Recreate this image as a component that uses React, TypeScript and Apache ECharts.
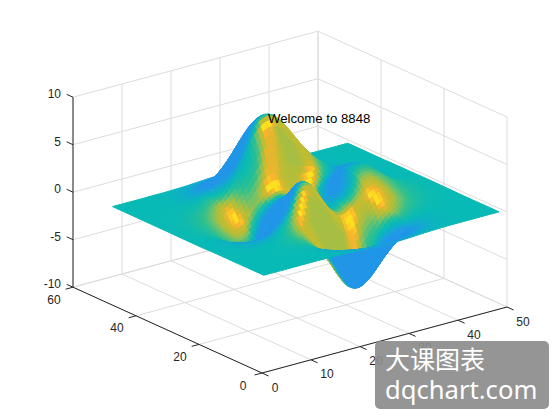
import React, { useEffect, useRef } from "react";
import * as echarts from "echarts";

// Heights read for the surface, every 2nd sample along each side (row = y 1..49, col = x 1..49)
const HEIGHT_ROWS: number[][] = [
  [0,0,0,0,0,.01,0,-.01,-.03,-.08,-.14,-.2,-.25,-.25,-.22,-.17,-.11,-.06,-.03,-.01,-.01,0,0,0,0],
  [0,0,0,0,.01,.01,0,-.02,-.1,-.22,-.39,-.56,-.68,-.7,-.61,-.46,-.3,-.17,-.08,-.03,-.01,0,0,0,0],
  [0,0,0,.01,.01,.02,0,-.07,-.23,-.52,-.91,-1.31,-1.57,-1.61,-1.41,-1.06,-.69,-.39,-.19,-.08,-.03,-.01,0,0,0],
  [0,0,.01,.01,.03,.04,.01,-.12,-.44,-.99,-1.74,-2.5,-3.02,-3.1,-2.72,-2.05,-1.33,-.74,-.35,-.14,-.05,-.01,0,0,0],
  [0,0,.01,.02,.05,.07,.05,-.12,-.58,-1.44,-2.63,-3.88,-4.76,-4.93,-4.36,-3.28,-2.11,-1.16,-.53,-.2,-.06,-.01,0,0,0],
  [0,0,.01,.03,.07,.13,.16,.04,-.44,-1.45,-2.98,-4.69,-5.98,-6.35,-5.67,-4.27,-2.71,-1.44,-.62,-.21,-.05,0,.01,0,0],
  [0,0,.01,.03,.08,.2,.35,.43,.2,-.62,-2.13,-4.04,-5.68,-6.36,-5.81,-4.37,-2.69,-1.31,-.46,-.08,.04,.04,.02,.01,0],
  [0,-.01,-.01,-.01,.04,.19,.49,.91,1.21,1,-.03,-1.78,-3.61,-4.67,-4.51,-3.34,-1.84,-.63,.03,.24,.22,.13,.06,.02,.01],
  [-.01,-.02,-.05,-.1,-.11,0,.38,1.11,2.04,2.66,2.41,1.11,-.73,-2.13,-2.41,-1.64,-.45,.45,.81,.73,.48,.25,.11,.04,.01],
  [-.02,-.05,-.12,-.24,-.4,-.45,-.16,.7,2.06,3.41,3.92,3.12,1.4,-.18,-.71,-.12,.9,1.59,1.66,1.29,.79,.4,.17,.06,.02],
  [-.03,-.08,-.19,-.43,-.76,-1.07,-1.05,-.32,1.18,2.93,3.96,3.55,2,.46,-.02,.7,1.82,2.49,2.4,1.79,1.08,.55,.23,.08,.03],
  [-.03,-.1,-.26,-.59,-1.1,-1.67,-1.97,-1.51,-.1,1.76,3.05,2.92,1.58,.23,-.01,.96,2.3,3.04,2.89,2.14,1.29,.65,.28,.1,.03],
  [-.04,-.11,-.29,-.67,-1.28,-2.03,-2.56,-2.36,-1.16,.63,2,2.07,.98,-.12,-.15,1,2.45,3.23,3.06,2.26,1.36,.69,.29,.1,.03],
  [-.03,-.11,-.29,-.66,-1.27,-2.06,-2.68,-2.65,-1.69,-.11,1.17,1.35,.52,-.32,-.21,.93,2.3,3.03,2.86,2.12,1.27,.64,.27,.1,.03],
  [-.03,-.09,-.24,-.56,-1.09,-1.77,-2.33,-2.36,-1.62,-.32,.79,1.04,.46,-.15,-.03,.9,2,2.56,2.39,1.76,1.06,.53,.22,.08,.02],
  [-.02,-.07,-.18,-.41,-.79,-1.27,-1.64,-1.58,-.88,.28,1.33,1.73,1.42,.94,.87,1.32,1.89,2.12,1.87,1.34,.79,.39,.17,.06,.02],
  [-.01,-.04,-.11,-.25,-.46,-.7,-.79,-.47,.41,1.72,2.99,3.7,3.69,3.23,2.74,2.45,2.25,1.96,1.5,1,.56,.27,.11,.04,.01],
  [-.01,-.02,-.05,-.11,-.19,-.2,0,.62,1.8,3.41,5.03,6.13,6.39,5.87,4.91,3.85,2.87,2.02,1.31,.77,.4,.18,.07,.03,.01],
  [0,-.01,-.02,-.03,-.01,.12,.5,1.31,2.66,4.43,6.25,7.57,7.99,7.44,6.19,4.66,3.2,2.02,1.16,.61,.29,.12,.05,.02,0],
  [0,0,0,.01,.07,.25,.66,1.45,2.7,4.32,5.99,7.24,7.68,7.18,5.97,4.42,2.94,1.76,.95,.46,.2,.08,.03,.01,0],
  [0,0,.01,.02,.08,.23,.56,1.16,2.11,3.32,4.57,5.51,5.86,5.49,4.56,3.36,2.2,1.29,.67,.32,.13,.05,.02,0,0],
  [0,0,.01,.02,.06,.16,.36,.74,1.33,2.07,2.84,3.43,3.65,3.42,2.84,2.09,1.36,.79,.4,.18,.08,.03,.01,0,0],
  [0,0,0,.01,.03,.08,.19,.39,.69,1.07,1.47,1.77,1.89,1.77,1.47,1.08,.7,.4,.21,.09,.04,.01,0,0,0],
  [0,0,0,.01,.02,.04,.09,.17,.3,.47,.64,.77,.82,.77,.64,.47,.3,.17,.09,.04,.02,.01,0,0,0],
  [0,0,0,0,.01,.01,.03,.06,.11,.17,.23,.28,.3,.28,.23,.17,.11,.06,.03,.01,.01,0,0,0,0],
];
const X_TICKS = [0, 10, 20, 30, 40, 50];
const Y_TICKS = [0, 20, 40, 60];
const Z_TICKS = [-10, -5, 0, 5, 10];
const ANNOTATION = { x: 25, y: 37, z: 8.2, text: "Welcome to 8848" };
const WATERMARK_LINES = ["大课图表", "dqchart.com"];

const PALETTE: [number, number[]][] = [
  [0, [33, 150, 232]],
  [0.12, [18, 170, 208]],
  [0.22, [8, 186, 182]],
  [0.4, [47, 192, 143]],
  [0.55, [117, 194, 103]],
  [0.68, [175, 190, 60]],
  [0.82, [200, 188, 45]],
  [0.92, [250, 180, 45]],
  [1, [252, 224, 31]],
];

// Screen projection of the 3D box, view az -37.5, el 30
const project = (x: number, y: number, z: number): [number, number] => [
  262 + 4.9 * x - 3.15 * y,
  373 - 1.32 * x - 1.43 * y - 9.5 * (z + 10),
];

const FINE = 3; // drawn facets per stored sample
const N = HEIGHT_ROWS.length;
const cr = (a: number, b: number, c: number, d: number, t: number) =>
  0.5 * (2 * b + (c - a) * t + (2 * a - 5 * b + 4 * c - d) * t * t + (3 * b - a - 3 * c + d) * t * t * t);
const clampI = (i: number) => Math.max(0, Math.min(N - 1, i));
const at = (r: number, c: number) => HEIGHT_ROWS[clampI(r)][clampI(c)];
const slopeX = (r: number, c: number) => (at(r, c + 1) - at(r, c - 1)) / 4;
const slopeY = (r: number, c: number) => (at(r + 1, c) - at(r - 1, c)) / 4;
const smooth = (f: (r: number, c: number) => number, r: number, c: number) => {
  const r0 = Math.min(N - 2, Math.floor(r));
  const c0 = Math.min(N - 2, Math.floor(c));
  const tr = r - r0;
  const tc = c - c0;
  const row = (k: number) => cr(f(k, c0 - 1), f(k, c0), f(k, c0 + 1), f(k, c0 + 2), tc);
  return cr(row(r0 - 1), row(r0), row(r0 + 1), row(r0 + 2), tr);
};

const M = (N - 1) * FINE + 1;
const fine: number[][] = [];
for (let r = 0; r < M; r++) {
  const line: number[] = [];
  for (let c = 0; c < M; c++) line.push(smooth(at, r / FINE, c / FINE));
  fine.push(line);
}
const step = 2 / FINE; // surface units per facet

const shade = (p: number, q: number) => {
  const qPart = q < 0 ? q * 1.6 : Math.min(q, 0.55);
  const bonus = 0.3 * Math.max(-p, 0) * Math.max(0, Math.min(1, 1 + q / 0.1));
  const g = qPart + bonus - 1.1 * Math.max(p - 0.34, 0);
  let t: number;
  if (g < 0) t = 0.22 + (Math.max(g, -0.35) / 0.35) * 0.22;
  else t = 0.22 + 0.78 * Math.pow(Math.min(1, g / 0.55), 1.3);
  const k = Math.max(0, Math.min(1, q / 0.4));
  t -= k * Math.min(0.22, Math.max(0, -p) * 0.9);
  t -= Math.min(0.12, Math.max(0, q - 0.75) * 0.5);
  t = Math.max(0, Math.min(1, t));
  for (let i = 1; i < PALETTE.length; i++) {
    if (t <= PALETTE[i][0]) {
      const [t0, c0] = PALETTE[i - 1];
      const [t1, c1] = PALETTE[i];
      const u = (t - t0) / (t1 - t0);
      return `rgb(${c0.map((v, j) => Math.round(v + (c1[j] - v) * u)).join(",")})`;
    }
  }
  return "rgb(252,224,31)";
};

type Cell = { pts: [number, number, number][]; color: string };
const cells: Cell[] = [];
for (let r = M - 2; r >= 0; r--) {
  for (let c = M - 2; c >= 0; c--) {
    const rm = (r + 0.5) / FINE;
    const cm = (c + 0.5) / FINE;
    const xy = (i: number) => 1 + i * step;
    cells.push({
      pts: [
        [xy(c), xy(r), fine[r][c]],
        [xy(c + 1), xy(r), fine[r][c + 1]],
        [xy(c + 1), xy(r + 1), fine[r + 1][c + 1]],
        [xy(c), xy(r + 1), fine[r + 1][c]],
      ],
      color: shade(smooth(slopeX, rm, cm), smooth(slopeY, rm, cm)),
    });
  }
}

type Seg = { a: [number, number, number]; b: [number, number, number]; color: string };
const GRID_COLOR = "#dcdcdc";
const AXIS_COLOR = "#262626";
const segs: Seg[] = [];
for (const x of X_TICKS) {
  segs.push({ a: [x, 0, -10], b: [x, 60, -10], color: GRID_COLOR });
  segs.push({ a: [x, 60, -10], b: [x, 60, 10], color: GRID_COLOR });
}
for (const y of Y_TICKS) {
  segs.push({ a: [0, y, -10], b: [50, y, -10], color: GRID_COLOR });
  segs.push({ a: [50, y, -10], b: [50, y, 10], color: GRID_COLOR });
}
for (const z of Z_TICKS) {
  segs.push({ a: [0, 60, z], b: [50, 60, z], color: GRID_COLOR });
  segs.push({ a: [50, 60, z], b: [50, 0, z], color: GRID_COLOR });
}
segs.push({ a: [0, 0, -10], b: [50, 0, -10], color: AXIS_COLOR });
segs.push({ a: [0, 0, -10], b: [0, 60, -10], color: AXIS_COLOR });
segs.push({ a: [0, 60, -10], b: [0, 60, 10], color: AXIS_COLOR });
for (const x of X_TICKS) segs.push({ a: [x, 0, -10], b: [x, -2.1, -10], color: AXIS_COLOR });
for (const y of Y_TICKS) segs.push({ a: [0, y, -10], b: [-1.5, y, -10], color: AXIS_COLOR });
for (const z of Z_TICKS) segs.push({ a: [0, 60, z], b: [0, 62, z], color: AXIS_COLOR });

type Label = { text: string; at: [number, number, number]; dx: number; dy: number; align: string };
const labels: Label[] = [
  ...X_TICKS.map((v) => ({ text: String(v), at: [v, 0, -10] as [number, number, number], dx: v === 0 ? 13 : 16, dy: 14.5, align: "center" })),
  ...Y_TICKS.map((v) => ({ text: String(v), at: [0, v, -10] as [number, number, number], dx: -19, dy: 12.5, align: "center" })),
  ...Z_TICKS.map((v) => ({ text: String(v), at: [0, 60, v] as [number, number, number], dx: -12, dy: -3, align: "right" })),
];

export default function App() {
  const ref = useRef<HTMLDivElement>(null);
  useEffect(() => {
    const chart = echarts.init(ref.current!, undefined, { renderer: "svg" });
    const lift = (api: any, p: [number, number, number]) => api.coord(project(p[0], p[1], p[2]));
    chart.setOption({
      animation: false,
      backgroundColor: "#fff",
      grid: { left: 0, right: 0, top: 0, bottom: 0 },
      xAxis: { type: "value", min: 0, max: 560, show: false },
      yAxis: { type: "value", min: 0, max: 420, inverse: true, show: false },
      series: [
        {
          type: "custom",
          coordinateSystem: "cartesian2d",
          silent: true,
          clip: false,
          z: 1,
          progressive: 0,
          data: segs.map((_, i) => [i]),
          renderItem: (params: any, api: any) => {
            const s = segs[params.dataIndex];
            const a = lift(api, s.a);
            const b = lift(api, s.b);
            return {
              type: "line",
              shape: { x1: a[0], y1: a[1], x2: b[0], y2: b[1] },
              style: { stroke: s.color, lineWidth: 1 },
            };
          },
        },
        {
          type: "custom",
          coordinateSystem: "cartesian2d",
          silent: true,
          clip: false,
          z: 2,
          progressive: 0,
          data: cells.map((_, i) => [i]),
          renderItem: (params: any, api: any) => {
            const c = cells[params.dataIndex];
            return {
              type: "polygon",
              shape: { points: c.pts.map((p) => lift(api, p)) },
              style: { fill: c.color, stroke: c.color, lineWidth: 1 },
            };
          },
        },
        {
          type: "custom",
          coordinateSystem: "cartesian2d",
          silent: true,
          clip: false,
          z: 3,
          data: labels.map((_, i) => [i]),
          renderItem: (params: any, api: any) => {
            const l = labels[params.dataIndex];
            const a = lift(api, l.at);
            return {
              type: "text",
              x: a[0] + l.dx,
              y: a[1] + l.dy,
              style: {
                text: l.text,
                fill: "#262626",
                font: '12px "Liberation Sans"',
                textAlign: l.align,
                textVerticalAlign: "middle",
              },
            };
          },
        },
        {
          type: "custom",
          coordinateSystem: "cartesian2d",
          silent: true,
          clip: false,
          z: 4,
          data: [[ANNOTATION.x, ANNOTATION.y, ANNOTATION.z]],
          renderItem: (_: any, api: any) => {
            const a = lift(api, [api.value(0), api.value(1), api.value(2)]);
            return {
              type: "text",
              x: a[0],
              y: a[1] + 4,
              style: {
                text: ANNOTATION.text,
                fill: "#000",
                font: '13.2px "Liberation Sans"',
                textAlign: "left",
                textVerticalAlign: "middle",
              },
            };
          },
        },
      ],
      graphic: [
        {
          type: "rect",
          z: 100,
          shape: { x: 375, y: 341, width: 174, height: 68, r: 5 },
          style: { fill: "rgba(140,140,140,0.92)" },
        },
        {
          type: "text",
          z: 101,
          x: 385,
          y: 358,
          style: { text: WATERMARK_LINES[0], fill: "#fff", font: '25px "Noto Sans CJK SC"', textVerticalAlign: "middle" },
        },
        {
          type: "text",
          z: 101,
          x: 385,
          y: 389,
          style: { text: WATERMARK_LINES[1], fill: "#fff", font: '25.6px "Noto Sans"', textVerticalAlign: "middle" },
        },
      ],
    });
    return () => chart.dispose();
  }, []);
  return <div ref={ref} style={{ position: "fixed", left: 0, top: 0, width: 560, height: 420 }} />;
}
